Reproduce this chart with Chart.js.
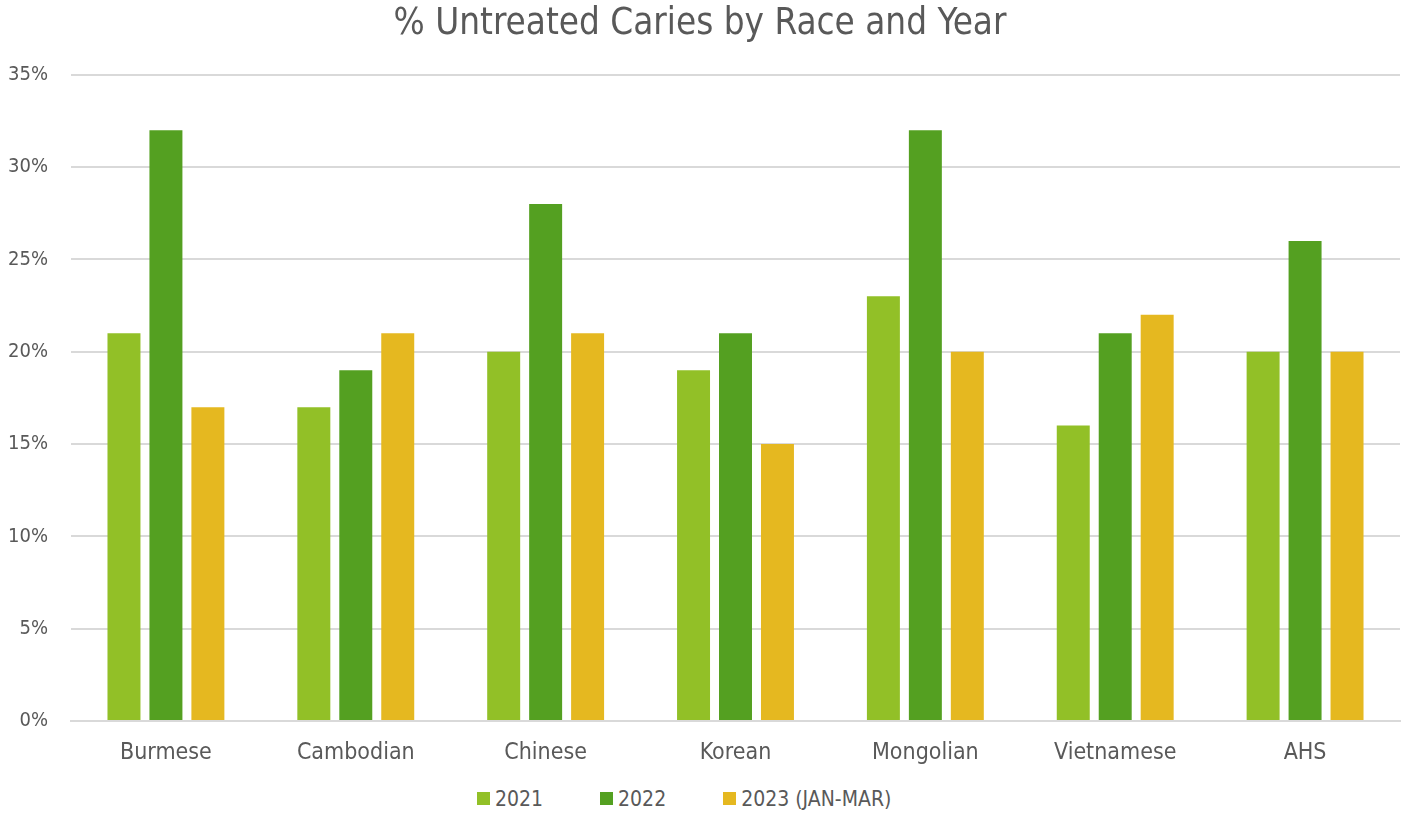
<!DOCTYPE html>
<html lang="en">
<head>
    <meta charset="UTF-8">
    <title>% Untreated Caries by Race and Year</title>
    <script src="https://cdn.jsdelivr.net/npm/chart.js"></script>
    <style>
        html, body {
            margin: 0;
            padding: 0;
            background: #ffffff;
        }
        #wrap {
            position: relative;
            width: 1409px;
            height: 815px;
        }
        #chartBox {
            position: absolute;
            left: 0;
            top: 0;
            width: 1409px;
            height: 775px;
        }
        #legend {
            position: absolute;
            left: 477px;
            top: 786px;
            height: 25px;
            display: flex;
            align-items: center;
            font-family: "DejaVu Sans Condensed", "DejaVu Sans", sans-serif;
            font-size: 21px;
            color: #595959;
            white-space: nowrap;
        }
        .legend-item {
            display: flex;
            align-items: center;
            margin-right: 57px;
        }
        .legend-item:last-child {
            margin-right: 0;
        }
        .legend-swatch {
            width: 13px;
            height: 13px;
            margin-right: 5px;
        }
    </style>
</head>
<body>
    <div id="wrap">
        <div id="chartBox">
            <canvas id="cariesChart"></canvas>
        </div>
        <div id="legend"></div>
    </div>

    <script>
        // Categories and values (% untreated caries)
        const races = ['Burmese', 'Cambodian', 'Chinese', 'Korean', 'Mongolian', 'Vietnamese', 'AHS'];
        const pct2021 = [21, 17, 20, 19, 23, 16, 20];
        const pct2022 = [32, 19, 28, 21, 32, 21, 26];
        const pct2023 = [17, 21, 21, 15, 20, 22, 20];
        const seriesLabels = ['2021', '2022', '2023 (JAN-MAR)'];
        const seriesColors = ['#92c027', '#54a021', '#e5b820'];

        const textColor = '#595959';
        const fontFamily = '"DejaVu Sans Condensed", "DejaVu Sans", sans-serif';

        const seriesData = [pct2021, pct2022, pct2023];

        const ctx = document.getElementById('cariesChart').getContext('2d');
        const chart = new Chart(ctx, {
            type: 'bar',
            data: {
                labels: races,
                datasets: seriesLabels.map((label, i) => ({
                    label: label,
                    data: seriesData[i],
                    backgroundColor: seriesColors[i]
                }))
            },
            options: {
                responsive: true,
                maintainAspectRatio: false,
                animation: false,
                datasets: {
                    bar: {
                        barPercentage: 0.786,
                        categoryPercentage: 0.663
                    }
                },
                layout: {
                    padding: { left: 0, right: 9, top: 0, bottom: 0 }
                },
                plugins: {
                    title: {
                        display: true,
                        text: '% Untreated Caries by Race and Year',
                        color: textColor,
                        font: { family: fontFamily, size: 36.5, weight: 'normal' },
                        padding: { top: 3, bottom: 28 }
                    },
                    legend: { display: false },
                    tooltip: { enabled: false }
                },
                scales: {
                    x: {
                        grid: { display: false, drawTicks: false },
                        border: { color: '#d9d9d9', width: 2 },
                        ticks: {
                            color: textColor,
                            font: { family: fontFamily, size: 23 },
                            padding: 18
                        },
                        afterFit: scale => { scale.height = 54; }
                    },
                    y: {
                        min: 0,
                        max: 35,
                        border: { display: false },
                        grid: { color: '#d9d9d9', lineWidth: 2, drawTicks: false },
                        ticks: {
                            stepSize: 5,
                            color: textColor,
                            font: { family: fontFamily, size: 20 },
                            padding: 23,
                            callback: value => value + '%'
                        },
                        afterFit: scale => { scale.width = 71; }
                    }
                }
            }
        });

        // Legend below the chart, built from the same series
        const legendEl = document.getElementById('legend');
        chart.data.datasets.forEach(ds => {
            const item = document.createElement('div');
            item.className = 'legend-item';
            const swatch = document.createElement('span');
            swatch.className = 'legend-swatch';
            swatch.style.background = ds.backgroundColor;
            const text = document.createElement('span');
            text.textContent = ds.label;
            item.appendChild(swatch);
            item.appendChild(text);
            legendEl.appendChild(item);
        });
    </script>
</body>
</html>
